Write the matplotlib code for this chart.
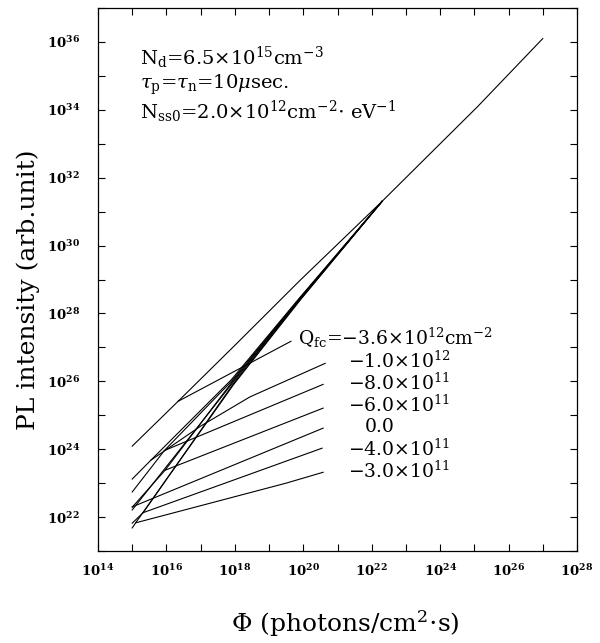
import numpy as np
import matplotlib
matplotlib.use("Agg")
import matplotlib.pyplot as plt
from matplotlib.ticker import FixedLocator, FuncFormatter

plt.rcParams["font.family"] = "DejaVu Serif"
plt.rcParams["mathtext.fontset"] = "dejavuserif"

# all values are log10 of the quantity
main_x = [22.3, 25.1, 27.0]
main_y = [31.3, 34.1, 36.1]

qfc_names = ["-3.6e12", "-1.0e12", "-8.0e11", "-6.0e11", "0.0", "-4.0e11", "-3.0e11"]

# high-flux branch of each curve (joins the common line)
steep_x = {
    "-3.6e12": [15.0, 16.34, 18.06, 19.9, 22.3],
    "-1.0e12": [15.0, 15.55, 17.9, 19.9, 22.3],
    "-8.0e11": [15.0, 15.94, 17.9, 19.9, 22.3],
    "-6.0e11": [15.0, 15.96, 17.92, 19.9, 22.3],
    "0.0": [15.0, 17.93, 19.9, 22.3],
    "-4.0e11": [15.0, 15.32, 17.95, 19.9, 22.3],
    "-3.0e11": [15.0, 15.1, 17.96, 19.9, 22.3],
}
steep_y = {
    "-3.6e12": [24.09, 25.41, 27.12, 28.97, 31.3],
    "-1.0e12": [23.12, 23.68, 26.05, 28.47, 31.3],
    "-8.0e11": [22.74, 23.96, 26.0, 28.45, 31.3],
    "-6.0e11": [22.29, 23.38, 25.98, 28.43, 31.3],
    "0.0": [22.21, 25.95, 28.42, 31.3],
    "-4.0e11": [21.82, 22.13, 25.92, 28.4, 31.3],
    "-3.0e11": [21.68, 21.83, 25.9, 28.38, 31.3],
}

# low-flux branch of each curve (ends near 4e20)
shallow_x = {
    "-3.6e12": [16.34, 19.64],
    "-1.0e12": [15.55, 17.0, 18.44, 20.64],
    "-8.0e11": [15.94, 20.58],
    "-6.0e11": [15.96, 20.58],
    "0.0": [15.0, 20.58],
    "-4.0e11": [15.32, 20.55],
    "-3.0e11": [15.1, 16.87, 19.5, 20.58],
}
shallow_y = {
    "-3.6e12": [25.41, 27.18],
    "-1.0e12": [23.68, 24.68, 25.54, 26.53],
    "-8.0e11": [23.96, 25.91],
    "-6.0e11": [23.38, 25.21],
    "0.0": [22.3, 24.62],
    "-4.0e11": [22.13, 24.03],
    "-3.0e11": [21.83, 22.3, 23.0, 23.32],
}

qfc_text = [
    r"Q$_{\mathrm{fc}}$=$-$3.6$\times$10$^{12}$cm$^{-2}$",
    r"$-$1.0$\times$10$^{12}$",
    r"$-$8.0$\times$10$^{11}$",
    r"$-$6.0$\times$10$^{11}$",
    r"0.0",
    r"$-$4.0$\times$10$^{11}$",
    r"$-$3.0$\times$10$^{11}$",
]

W, H = 600, 643
fig = plt.figure(figsize=(W / 100, H / 100), dpi=100)
ax = fig.add_axes([98 / W, 1 - 551 / H, 479 / W, 543 / H])

lw = 0.8
ax.plot(10 ** np.array(main_x), 10 ** np.array(main_y), color="black", lw=lw)
for q in qfc_names:
    ax.plot(10 ** np.array(steep_x[q]), 10 ** np.array(steep_y[q]), color="black", lw=lw)
    ax.plot(10 ** np.array(shallow_x[q]), 10 ** np.array(shallow_y[q]), color="black", lw=lw)

ax.set_xscale("log")
ax.set_yscale("log")
ax.set_xlim(1e14, 1e28)
ax.set_ylim(1e21, 1e37)

xt = [10.0 ** k for k in range(14, 29)]
yt = [10.0 ** k for k in range(21, 38)]
ax.xaxis.set_major_locator(FixedLocator(xt))
ax.yaxis.set_major_locator(FixedLocator(yt))
ax.xaxis.set_minor_locator(FixedLocator([]))
ax.yaxis.set_minor_locator(FixedLocator([]))


def fmt(v, pos):
    k = int(round(np.log10(v)))
    if k % 2:
        return ""
    return r"$\mathbf{10^{%d}}$" % k


ax.xaxis.set_major_formatter(FuncFormatter(fmt))
ax.yaxis.set_major_formatter(FuncFormatter(fmt))
ax.tick_params(which="both", direction="in", top=True, right=True, length=5,
               width=0.8, labelsize=9.5)
ax.tick_params(axis="y", pad=13)
ax.tick_params(axis="x", pad=9)
for s in ax.spines.values():
    s.set_linewidth(0.9)

fig.text(345 / W, 1 - 624 / H, r"$\Phi$ (photons/cm$^2$$\cdot$s)", fontsize=18,
         ha="center", va="center")
fig.text(28 / W, 1 - 290 / H, "PL intensity (arb.unit)", fontsize=18,
         ha="center", va="center", rotation=90)

ann = [
    (58, r"N$_{\mathrm{d}}$=6.5$\times$10$^{15}$cm$^{-3}$"),
    (85, r"$\tau_{\mathrm{p}}$=$\tau_{\mathrm{n}}$=10$\mu$sec."),
    (112, r"N$_{\mathrm{ss0}}$=2.0$\times$10$^{12}$cm$^{-2}$$\cdot$ eV$^{-1}$"),
]
for py, t in ann:
    fig.text(140 / W, 1 - py / H, t, fontsize=14, va="center")

label_px = [(298, 338), (348, 361), (348, 383), (348, 405), (365, 427), (348, 449), (348, 471)]
for t, (px, py) in zip(qfc_text, label_px):
    fig.text(px / W, 1 - py / H, t, fontsize=13.5, va="center")

fig.savefig("out.png", dpi=100)
